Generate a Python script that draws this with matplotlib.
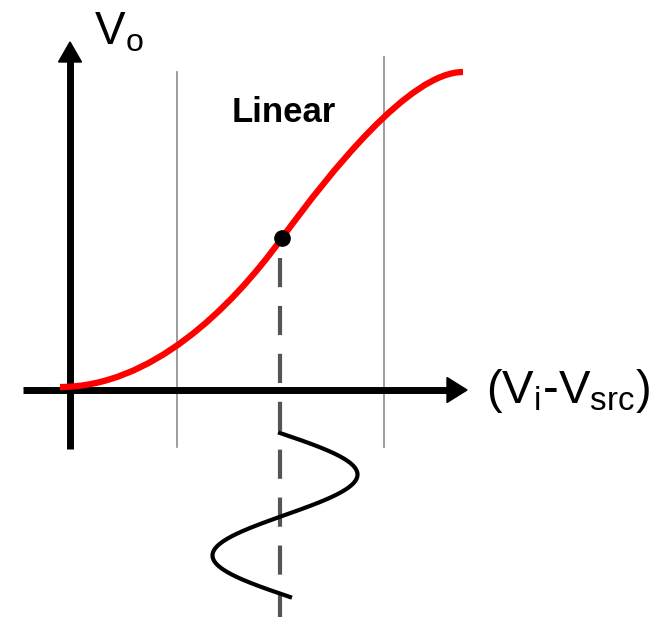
#!/usr/bin/env python3
"""
Transfer characteristic sketch: Vo vs (Vi - Vsrc) with the linear region
and a small-signal sine swing around the bias point.
"""
import numpy as np
import matplotlib.pyplot as plt
from matplotlib.path import Path
from matplotlib.patches import PathPatch, FancyArrow

plt.rcParams['font.family'] = ['Liberation Sans', 'DejaVu Sans']
plt.rcParams['mathtext.fontset'] = 'custom'
plt.rcParams['mathtext.rm'] = 'Liberation Sans'
plt.rcParams['mathtext.it'] = 'Liberation Sans'

# Drawing works in pixel units of the 667x617 canvas (y grows downward)
W, H = 667, 617

# Red transfer curve: two cubic Bezier segments (start, ctrl1, ctrl2, end)
curve_x = [60, 150, 230, 282, 330, 410, 463]
curve_y = [387, 387, 310, 238, 172, 72, 72]

# Bias point on the curve
bias_x, bias_y = 282, 238

# Linear-region boundaries (thin gray lines)
region_x = [177, 384]
region_top = [72, 57]
region_bottom = 447

# Small-signal sine swing below the x axis
sine_x0, sine_y0 = 280, 433
sine_amp = 75
sine_len = 164
sine_drift = 10

fig = plt.figure(figsize=(W / 100, H / 100), dpi=100)
ax = fig.add_axes([0, 0, 1, 1])
ax.set_xlim(0, W)
ax.set_ylim(H, 0)
ax.axis('off')

# Gray region lines
for x, top in zip(region_x, region_top):
    ax.plot([x, x], [top, region_bottom], color='#8c8c8c', linewidth=1.2, zorder=1)

# Axes arrows
ax.plot([70, 70], [449, 60], color='black', linewidth=5, solid_capstyle='butt', zorder=3)
ax.add_patch(FancyArrow(70, 62, 0, -0.01, width=0, head_width=23, head_length=20,
                        length_includes_head=False, color='black', zorder=3))
ax.plot([23, 449], [390, 390], color='black', linewidth=5, solid_capstyle='butt', zorder=3)
ax.add_patch(FancyArrow(447, 390, 0.01, 0, width=0, head_width=25, head_length=20,
                        length_includes_head=False, color='black', zorder=3))

# Red curve
verts = list(zip(curve_x, curve_y))
codes = [Path.MOVETO] + [Path.CURVE4] * 6
ax.add_patch(PathPatch(Path(verts, codes), facecolor='none', edgecolor='#ff0000',
                       linewidth=4.5, capstyle='butt', zorder=4))

# Bias point and dashed projection
ax.plot([bias_x - 2, bias_x - 2], [258, 617], color='#555555', linewidth=3,
        linestyle=(0, (7, 4.5)), zorder=2)
ax.plot(bias_x, bias_y, 'o', color='black', markersize=11, zorder=5)

# Sine swing
t = np.linspace(0, 1, 200)
sx = sine_x0 + sine_amp * np.sin(2 * np.pi * t) + sine_drift * t
sy = sine_y0 + sine_len * t
ax.plot(sx, sy, color='black', linewidth=3, zorder=4)

# Labels
ax.text(94, 45, r'$\mathregular{V_o}$', fontsize=33, ha='left', va='baseline')
ax.text(232, 122, 'Linear', fontsize=25, fontweight='bold', ha='left', va='baseline')
ax.text(486, 403, r'$\mathregular{(V_i\text{-}V_{src})}$', fontsize=34, ha='left', va='baseline')

fig.savefig('out.png', dpi=100)
